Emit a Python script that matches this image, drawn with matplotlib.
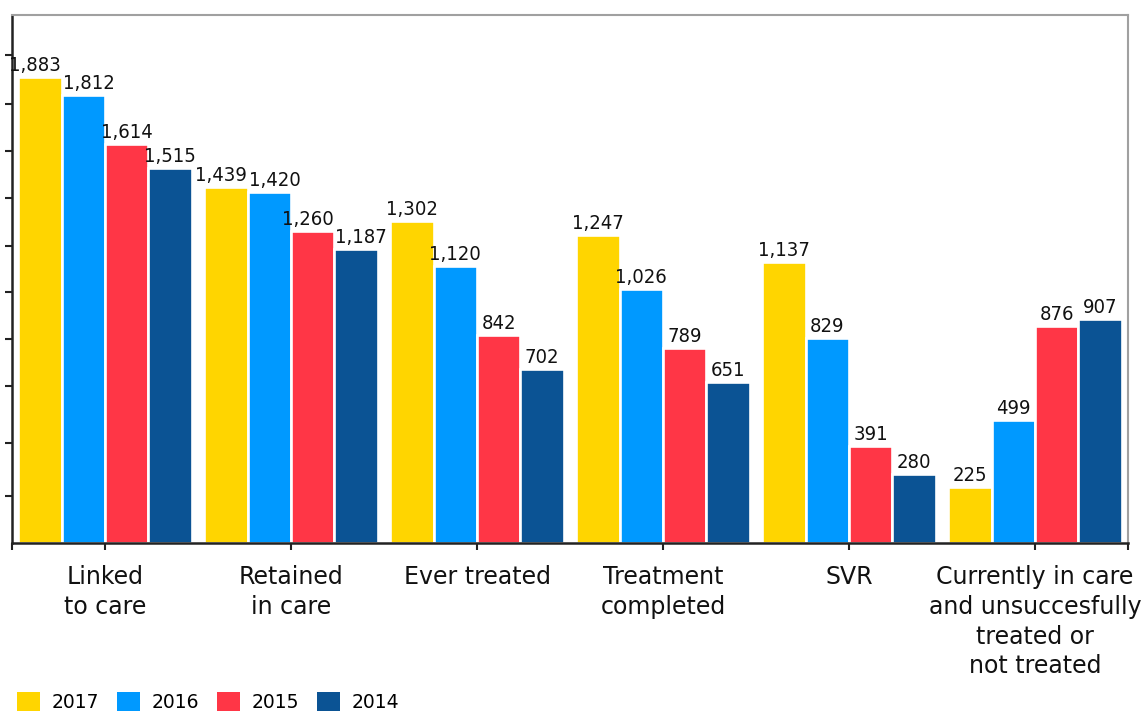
import matplotlib
matplotlib.use("Agg")
import matplotlib.pyplot as plt
from matplotlib.patches import Patch
from matplotlib import font_manager
import numpy as np

categories = ["Linked\nto care", "Retained\nin care", "Ever treated",
              "Treatment\ncompleted", "SVR",
              "Currently in care\nand unsuccesfully\ntreated or\nnot treated"]
years = ["2017", "2016", "2015", "2014"]
v2017 = [1883, 1439, 1302, 1247, 1137, 225]
v2016 = [1812, 1420, 1120, 1026, 829, 499]
v2015 = [1614, 1260, 842, 789, 391, 876]
v2014 = [1515, 1187, 702, 651, 280, 907]
colors = ["#FFD500", "#0099FF", "#FF3646", "#0B5394"]

series = [v2017, v2016, v2015, v2014]

# pick a narrow font for the value labels if one is installed
names = {f.name for f in font_manager.fontManager.ttflist}
narrow_files = [f for f in font_manager.fontManager.ttflist
                if ("Narrow" in f.fname or "Condensed" in f.fname)
                and "Bold" not in f.fname and "Oblique" not in f.fname
                and "Italic" not in f.fname]
if "Liberation Sans Narrow" in names:
    label_font = dict(family=["Liberation Sans Narrow", "DejaVu Sans"], size=15)
elif narrow_files:
    label_font = dict(fontproperties=font_manager.FontProperties(
        fname=narrow_files[0].fname, size=14.5))
else:
    label_font = dict(family=["Liberation Sans", "DejaVu Sans"], size=13)

W, H = 1145, 712
fig = plt.figure(figsize=(W / 100, H / 100), dpi=100)
ax = fig.add_axes([12 / W, (H - 543) / H, 1116 / W, (543 - 15) / H])

x = np.arange(len(categories))
step = 0.233
offsets = [-1.5 * step, -0.5 * step, 0.5 * step, 1.5 * step]

labels = [[None] * len(series) for _ in categories]
for si, (vals, off, col) in enumerate(zip(series, offsets, colors)):
    bars = ax.bar(x + off, vals, width=step, color=col, edgecolor="white",
                  linewidth=1.9, zorder=2)
    for ci, (b, v) in enumerate(zip(bars, vals)):
        labels[ci][si] = ax.annotate(
            f"{v:,}", (b.get_x() + b.get_width() / 2, v),
            xytext=(0, 1.5), textcoords="offset points",
            ha="center", va="bottom", color="#111111", **label_font)

ax.set_xlim(-0.5, 5.5)
ax.set_ylim(0, 2135)
ax.set_yticks([190, 404, 635, 825, 1015, 1201, 1395, 1585, 1775, 1973])
ax.set_yticklabels([])
ax.set_xticks([-0.5] + list(x) + [5.5])
ax.set_xticklabels([""] + categories + [""], fontsize=17, family="DejaVu Sans",
                   color="#111111", linespacing=1.3)
ax.tick_params(axis="both", direction="out", length=5, width=1.5, color="#222222")
ax.tick_params(axis="x", pad=11)

for s in ["left", "bottom"]:
    ax.spines[s].set_color("#222222")
    ax.spines[s].set_linewidth(1.8)
for s in ["top", "right"]:
    ax.spines[s].set_color("#A0A0A0")
    ax.spines[s].set_linewidth(1.5)

handles = [Patch(facecolor=c, edgecolor="none") for c in colors]
fig.legend(handles, years, loc="upper left",
           bbox_to_anchor=(17 / W, 1 - 692 / H), ncol=4, frameon=False,
           fontsize=13.5, handlelength=1.25, handleheight=1.2,
           handletextpad=0.6, columnspacing=0.95, borderpad=0,
           borderaxespad=0)

# nudge apart neighbouring value labels that would touch
fig.canvas.draw()
renderer = fig.canvas.get_renderer()
for group in labels:
    for a, b in zip(group[:-1], group[1:]):
        ea = a.get_window_extent(renderer)
        eb = b.get_window_extent(renderer)
        if ea.y0 < eb.y1 and eb.y0 < ea.y1:
            ov = ea.x1 - eb.x0 + 2
            if ov > 0:
                pa = a.get_position() if False else a.xyann
                a.xyann = (pa[0] - ov / 2 * 72 / 100, pa[1])
                pb = b.xyann
                b.xyann = (pb[0] + ov / 2 * 72 / 100, pb[1])

fig.savefig("out.png", dpi=100)
